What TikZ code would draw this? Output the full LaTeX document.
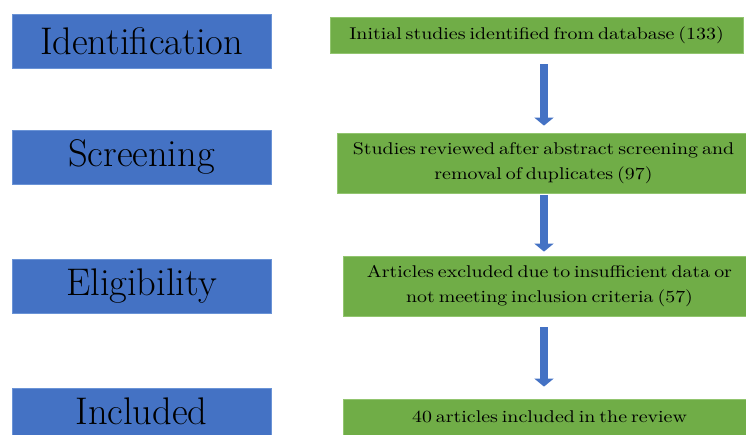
\documentclass[tikz,border=0pt]{standalone}
\usepackage{fontspec}
\newfontfamily\stepfont{lmroman10-regular}[Extension=.otf, FakeStretch=1.17, WordSpace=0.6]
\usetikzlibrary{arrows.meta}
\definecolor{stageblue}{HTML}{4472C4}
\definecolor{stageblueedge}{HTML}{6A93D6}
\definecolor{stepgreen}{HTML}{70AD47}
\definecolor{stepgreenedge}{HTML}{92C56F}
\tikzset{
  stagebox/.style={rectangle, fill=stageblue, draw=stageblueedge, line width=0.8pt,
    minimum width=259pt, minimum height=54pt, inner sep=0pt,
    font=\fontsize{38.5}{44}\selectfont, text=black},
  stepbox/.style={rectangle, fill=stepgreen, draw=stepgreenedge, line width=0.8pt,
    inner sep=0pt, align=center, text=black,
    font=\stepfont\fontsize{17}{24.5}\selectfont},
  flowarrow/.style={draw=stageblue, line width=8pt,
    -{Triangle[width=19pt,length=8pt]}},
}
\begin{document}
\begin{tikzpicture}[x=1pt,y=-1pt]
\useasboundingbox (0,0) rectangle (746,434);
\clip (0,0) rectangle (746,434);
% stage labels
\node[stagebox] (s1) at (141.5,41) {Identification};
\node[stagebox] (s2) at (141.5,157) {Screening};
\node[stagebox] (s3) at (141.5,286) {Eligibility};
\node[stagebox, minimum height=47pt] (s4) at (141.5,411.5) {Included};
% steps
\node[stepbox, minimum width=413pt, minimum height=36pt] (g1) at (536.5,35) {Initial studies identified from database (133)};
\node[stepbox, minimum width=413pt, minimum height=60pt] (g2) at (543.5,163) {Studies reviewed after abstract screening and\\removal of duplicates (97)};
\node[stepbox, minimum width=413pt, minimum height=60pt] (g3) at (549.5,286) {Articles excluded due to insufficient data or\\not meeting inclusion criteria (57)};
\node[stepbox, minimum width=413pt, minimum height=36pt] (g4) at (549.5,417) {40 articles included in the review};
% arrow column
\coordinate (col) at (544,0);
\draw[flowarrow, shorten <=11pt, shorten >=7pt] (g1.south -| col) -- (g2.north -| col);
\draw[flowarrow, shorten <=2pt, shorten >=4pt] (g2.south -| col) -- (g3.north -| col);
\draw[flowarrow, shorten <=11pt, shorten >=12pt] (g3.south -| col) -- (g4.north -| col);
\end{tikzpicture}
\end{document}
